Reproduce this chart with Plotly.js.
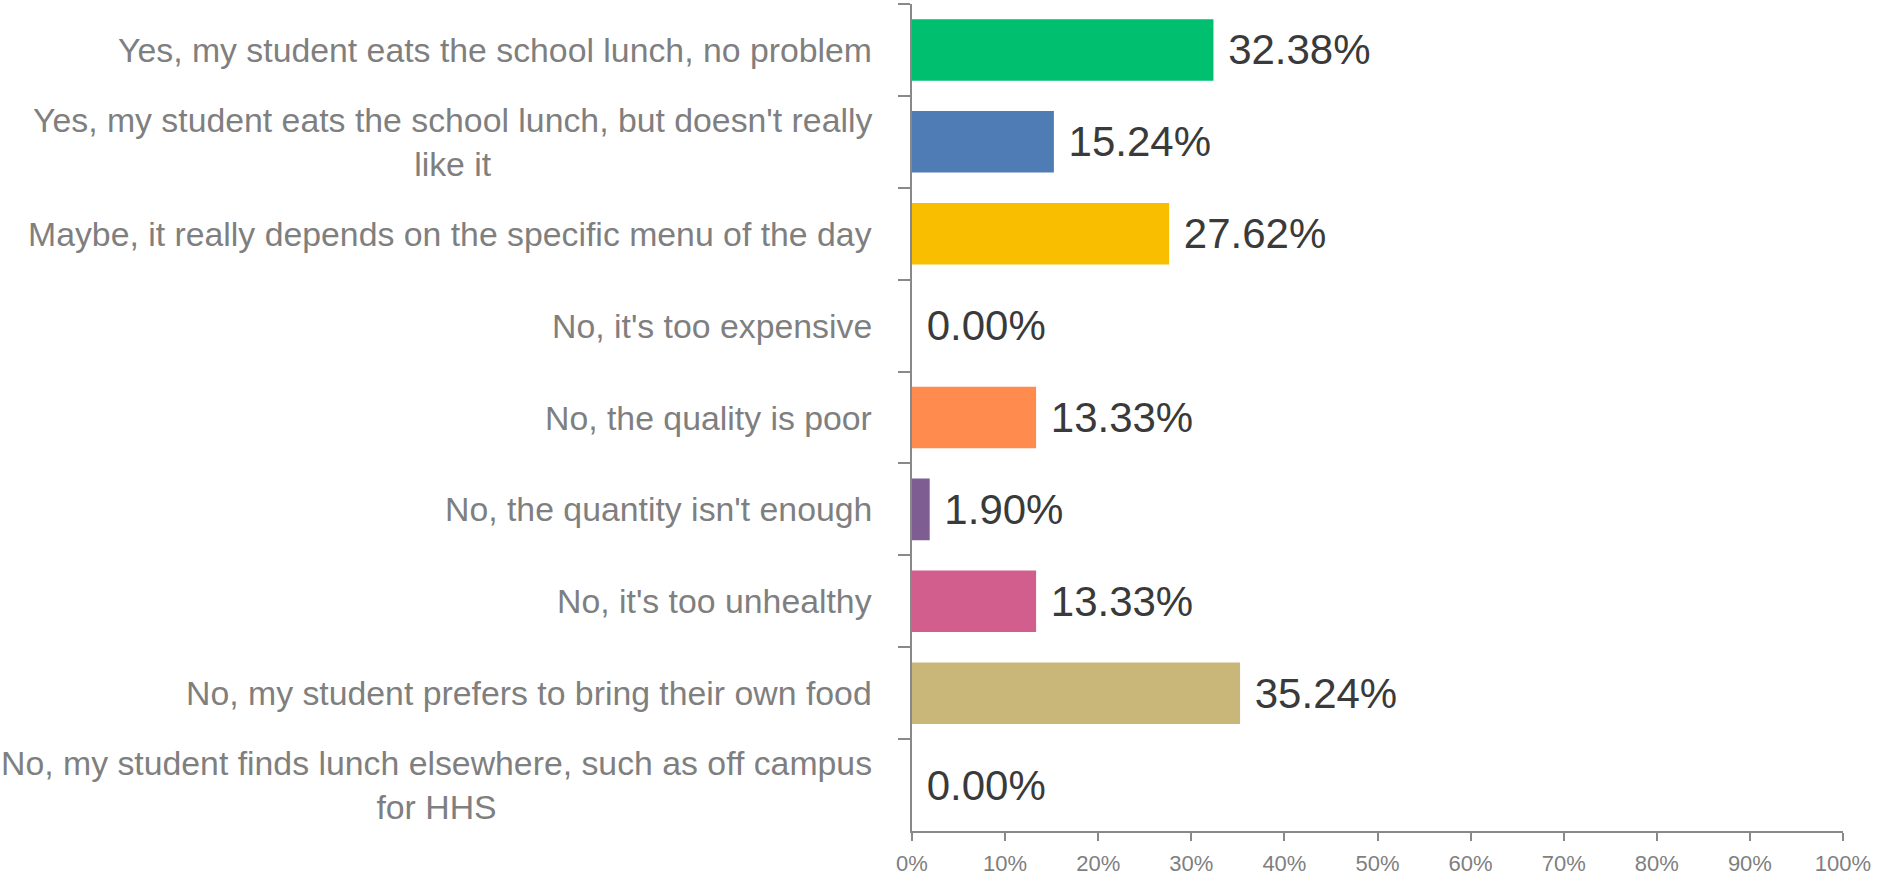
<!DOCTYPE html>
<html>
<head>
<meta charset="utf-8">
<script src="https://cdn.plot.ly/plotly-3.0.1.min.js"></script>
<style>
  html, body { margin: 0; padding: 0; background: #ffffff; }
  #chart { width: 1883px; height: 882px; }
</style>
</head>
<body>
<div id="chart"></div>
<script>
// Categories (top to bottom)
const categories = [
  "Yes, my student eats the school lunch, no problem",
  "Yes, my student eats the school lunch, but doesn't really<br>like it",
  "Maybe, it really depends on the specific menu of the day",
  "No, it's too expensive",
  "No, the quality is poor",
  "No, the quantity isn't enough",
  "No, it's too unhealthy",
  "No, my student prefers to bring their own food",
  "No, my student finds lunch elsewhere, such as off campus<br>for HHS"
];

// Share of respondents (fraction)
const values = [0.3238, 0.1524, 0.2762, 0.0000, 0.1333, 0.0190, 0.1333, 0.3524, 0.0000];

const barColors = ["#00BF6F", "#507CB6", "#F9BE00", "#6BC8CD", "#FF8B4F", "#7D5D92", "#D25E8E", "#C9B77A", "#DADADA"];

const xTickVals = [0, 0.1, 0.2, 0.3, 0.4, 0.5, 0.6, 0.7, 0.8, 0.9, 1.0];

const axisGrey = "#898989";
const labelGrey = "#7F7F7F";

const trace = {
  type: "bar",
  orientation: "h",
  y: categories,
  x: values,
  marker: { color: barColors, line: { width: 0 } },
  texttemplate: "\u00a0%{x:.2%}",
  textposition: "outside",
  constraintext: "none",
  cliponaxis: false,
  textfont: { family: "Liberation Sans, Arial, sans-serif", size: 42, color: "#3A3A3A" },
  hoverinfo: "skip"
};

const annotations = categories.map(c => ({
  text: c,
  xref: "paper",
  x: 0,
  xanchor: "right",
  xshift: -38,
  yref: "y",
  y: c,
  yanchor: "middle",
  align: "center",
  showarrow: false,
  font: { family: "Liberation Sans, Arial, sans-serif", size: 33.8, color: labelGrey }
}));

const layout = {
  width: 1883,
  height: 882,
  margin: { l: 912, r: 40, t: 4, b: 51 },
  paper_bgcolor: "#ffffff",
  plot_bgcolor: "#ffffff",
  showlegend: false,
  bargap: 0.33,
  xaxis: {
    range: [0, 1],
    tickvals: xTickVals,
    tickformat: ".0%",
    showgrid: false,
    zeroline: false,
    showline: true,
    linecolor: axisGrey,
    linewidth: 2,
    ticks: "outside",
    ticklen: 8,
    tickwidth: 2,
    tickcolor: axisGrey,
    ticklabelstandoff: 4,
    tickfont: { family: "Liberation Sans, Arial, sans-serif", size: 22, color: labelGrey },
    fixedrange: true
  },
  yaxis: {
    type: "category",
    autorange: "reversed",
    showticklabels: false,
    showgrid: false,
    zeroline: false,
    showline: true,
    linecolor: axisGrey,
    linewidth: 2,
    ticks: "outside",
    tickson: "boundaries",
    ticklen: 12,
    tickwidth: 2,
    tickcolor: axisGrey,
    fixedrange: true
  },
  annotations: annotations
};

Plotly.newPlot("chart", [trace], layout, { displayModeBar: false, staticPlot: true });
</script>
</body>
</html>
